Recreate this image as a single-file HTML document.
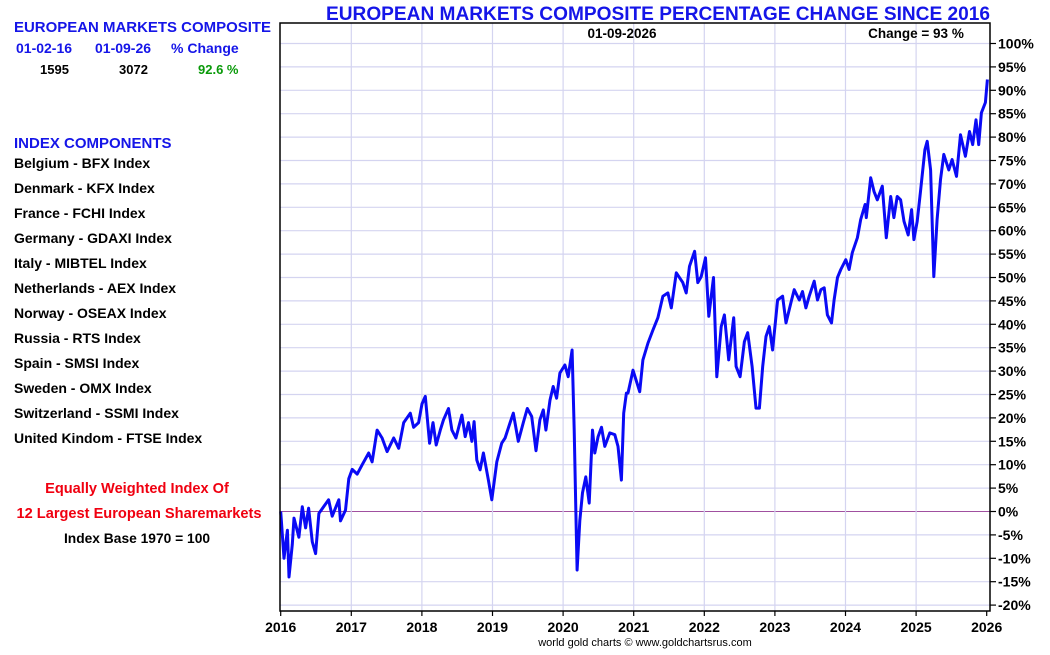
<!DOCTYPE html>
<html><head><meta charset="utf-8">
<style>
body{margin:0;background:#fff;font-family:"Liberation Sans",sans-serif;}
svg text{font-family:"Liberation Sans",sans-serif;}
</style></head>
<body>
<svg id="chart" width="1050" height="650" viewBox="0 0 1050 650" xmlns="http://www.w3.org/2000/svg">
<rect x="0" y="0" width="1050" height="650" fill="#fff"/>
<text x="658" y="20" font-size="19" font-weight="bold" fill="#1515e8" text-anchor="middle" textLength="664" lengthAdjust="spacingAndGlyphs">EUROPEAN MARKETS COMPOSITE PERCENTAGE CHANGE SINCE 2016</text>
<g id="sidebar" font-weight="bold" font-size="14">
<text x="14" y="32" fill="#1515e8" font-size="15" textLength="257" lengthAdjust="spacingAndGlyphs">EUROPEAN MARKETS COMPOSITE</text>
<text x="16" y="53" fill="#1515e8">01-02-16</text>
<text x="95" y="53" fill="#1515e8">01-09-26</text>
<text x="171" y="53" fill="#1515e8">% Change</text>
<text x="40" y="74" fill="#000" font-size="13">1595</text>
<text x="119" y="74" fill="#000" font-size="13">3072</text>
<text x="198" y="74" fill="#0a9a0a" font-size="13">92.6 %</text>
<text x="14" y="148" fill="#1515e8" font-size="15">INDEX COMPONENTS</text>
<g fill="#000" font-size="14">
<text x="14" y="168">Belgium - BFX Index</text>
<text x="14" y="193">Denmark - KFX Index</text>
<text x="14" y="218">France - FCHI Index</text>
<text x="14" y="243">Germany - GDAXI Index</text>
<text x="14" y="268">Italy - MIBTEL Index</text>
<text x="14" y="293">Netherlands - AEX Index</text>
<text x="14" y="318">Norway - OSEAX Index</text>
<text x="14" y="343">Russia - RTS Index</text>
<text x="14" y="368">Spain - SMSI Index</text>
<text x="14" y="393">Sweden - OMX Index</text>
<text x="14" y="418">Switzerland - SSMI Index</text>
<text x="14" y="443">United Kindom - FTSE Index</text>
</g>
<text x="137" y="493" fill="#f00010" text-anchor="middle" font-size="14.6">Equally Weighted Index Of</text>
<text x="139" y="518" fill="#f00010" text-anchor="middle" font-size="14.6">12 Largest European Sharemarkets</text>
<text x="137" y="543" fill="#000" text-anchor="middle" font-size="13.8">Index Base 1970 = 100</text>
</g>
<g id="grid"></g>
<g id="series"></g>
<rect x="280" y="23" width="710" height="588" fill="none" stroke="#000" stroke-width="1.5"/>
<text x="622" y="38" font-size="13.5" font-weight="bold" text-anchor="middle">01-09-2026</text>
<text x="916" y="38" font-size="13.5" font-weight="bold" text-anchor="middle">Change = 93 %</text>
<g id="axes"></g>
<text x="645" y="646" font-size="11" fill="#000" text-anchor="middle">world gold charts © www.goldchartsrus.com</text>
</svg>
<script>
const yearTicks=[2016,2017,2018,2019,2020,2021,2022,2023,2024,2025,2026];
const pctTicks=[100,95,90,85,80,75,70,65,60,55,50,45,40,35,30,25,20,15,10,5,0,-5,-10,-15,-20];
const yearsSince2016=[0,.047,.095,.117,.165,.188,.258,.306,.353,.395,.448,.494,.541,.607,.678,.73,.823,.847,.918,.965,1.013,1.083,1.154,1.247,1.295,1.366,1.436,1.507,1.6,1.671,1.742,1.836,1.883,1.953,2.001,2.048,2.109,2.157,2.203,2.26,2.306,2.377,2.425,2.482,2.566,2.613,2.66,2.708,2.74,2.778,2.825,2.871,2.942,2.99,3.061,3.131,3.178,3.249,3.295,3.366,3.436,3.493,3.555,3.616,3.672,3.719,3.757,3.814,3.86,3.908,3.955,4.025,4.072,4.128,4.157,4.181,4.199,4.237,4.275,4.322,4.369,4.417,4.449,4.496,4.544,4.59,4.661,4.732,4.778,4.826,4.859,4.897,4.919,4.99,5.085,5.131,5.202,5.273,5.343,5.414,5.484,5.532,5.603,5.696,5.744,5.791,5.862,5.908,5.956,6.017,6.064,6.13,6.177,6.239,6.285,6.346,6.417,6.451,6.507,6.568,6.615,6.677,6.733,6.78,6.827,6.874,6.921,6.968,7.038,7.109,7.157,7.227,7.274,7.345,7.391,7.439,7.486,7.556,7.603,7.651,7.698,7.744,7.801,7.839,7.886,7.934,8.004,8.051,8.097,8.168,8.216,8.277,8.295,8.357,8.404,8.451,8.521,8.578,8.64,8.686,8.733,8.781,8.828,8.888,8.936,8.969,9.016,9.063,9.124,9.157,9.205,9.251,9.298,9.346,9.393,9.463,9.51,9.572,9.629,9.699,9.756,9.802,9.849,9.887,9.925,9.982,10.01];
const pctChange=[0,-10,-4,-14,-7,-1.4,-5.5,1,-3.5,0.7,-6.5,-9,-0.4,1,2.5,-1,2.5,-2,0.3,7,9,8,10,12.5,10.6,17.4,15.7,12.8,15.7,13.5,19,21,18,19,23,24.6,14.6,19,14.2,17.4,19.6,22,17.4,15.7,20.6,16,19,15,19.2,11,8.9,12.5,6.7,2.5,10.6,14.6,15.7,19,21,15,19,22,20.3,13,19.6,21.7,17.4,23.8,26.7,24.2,29.6,31.3,28.8,34.5,17.4,-0.4,-12.5,-2,4,7.4,1.8,17.4,12.5,16,18,13.9,16.8,16.4,13.9,6.7,21,25.3,25.3,30.2,25.6,32.4,36,38.8,41.4,46,46.7,43.5,51,48.9,46.7,52.4,55.6,48.9,50.2,54.2,41.7,50,28.8,39.5,42,32.4,41.4,31,28.8,36.3,38.2,31,22.1,22.1,31,37.4,39.5,34.5,45.2,46,40.3,44.6,47.4,45.2,47,43.5,46,49.2,45.2,47.4,47.8,42,40.3,45.2,50,51.7,53.8,51.7,55.3,58.5,62.4,65.6,62.8,71.3,68.4,66.6,69.5,58.5,67.3,62.8,67.3,66.6,62,59.1,64.5,58.1,62,68.4,77.3,79.1,73,50.2,62.4,70.9,76.3,73,75.2,71.6,80.5,75.9,81.2,78.4,83.7,78.4,85.2,87.4,92.3];

const NS='http://www.w3.org/2000/svg';
const X0=280.7,XPY=70.6,Y0=511.5,YPP=23.4/5;
function xScale(year){return X0+(year-2016)*XPY;}
function yScale(p){return Y0-p*YPP;}
function mk(tag,attrs,parent){const e=document.createElementNS(NS,tag);for(const k in attrs)e.setAttribute(k,attrs[k]);parent.appendChild(e);return e;}
const grid=document.getElementById('grid'),axes=document.getElementById('axes'),series=document.getElementById('series');
pctTicks.forEach(p=>{
  const y=yScale(p);
  const l=mk('line',{x1:280,x2:990,y1:y,y2:y,stroke:p===0?'#a050a0':'#d4d4f0','stroke-width':p===0?1:1.2},grid);
  
  
  mk('line',{x1:990,x2:996,y1:y,y2:y,stroke:'#000','stroke-width':1.2},axes);
  const t=mk('text',{x:998,y:y+5,'font-size':14,'font-weight':'bold',fill:'#000'},axes);
  t.textContent=p+'%';
  
  
});
yearTicks.forEach(yr=>{
  const x=xScale(yr);
  if(yr>2016&&yr<2026){
    const l=mk('line',{x1:x,x2:x,y1:23,y2:611,stroke:'#d4d4f0','stroke-width':1.2},grid);
    
    
  }
  mk('line',{x1:x,x2:x,y1:611,y2:616,stroke:'#000','stroke-width':1.2},axes);
  const t=mk('text',{x:x,y:632,'font-size':14,'font-weight':'bold','text-anchor':'middle',fill:'#000'},axes);
  t.textContent=yr;
  
  
});
let d='';
yearsSince2016.forEach((t,i)=>{d+=(i?'L':'M')+xScale(2016+t).toFixed(1)+','+yScale(pctChange[i]).toFixed(1);});
const path=mk('path',{d:d,fill:'none',stroke:'#0a0af5','stroke-width':3,'stroke-linejoin':'round'},series);


</script>
</body></html>
